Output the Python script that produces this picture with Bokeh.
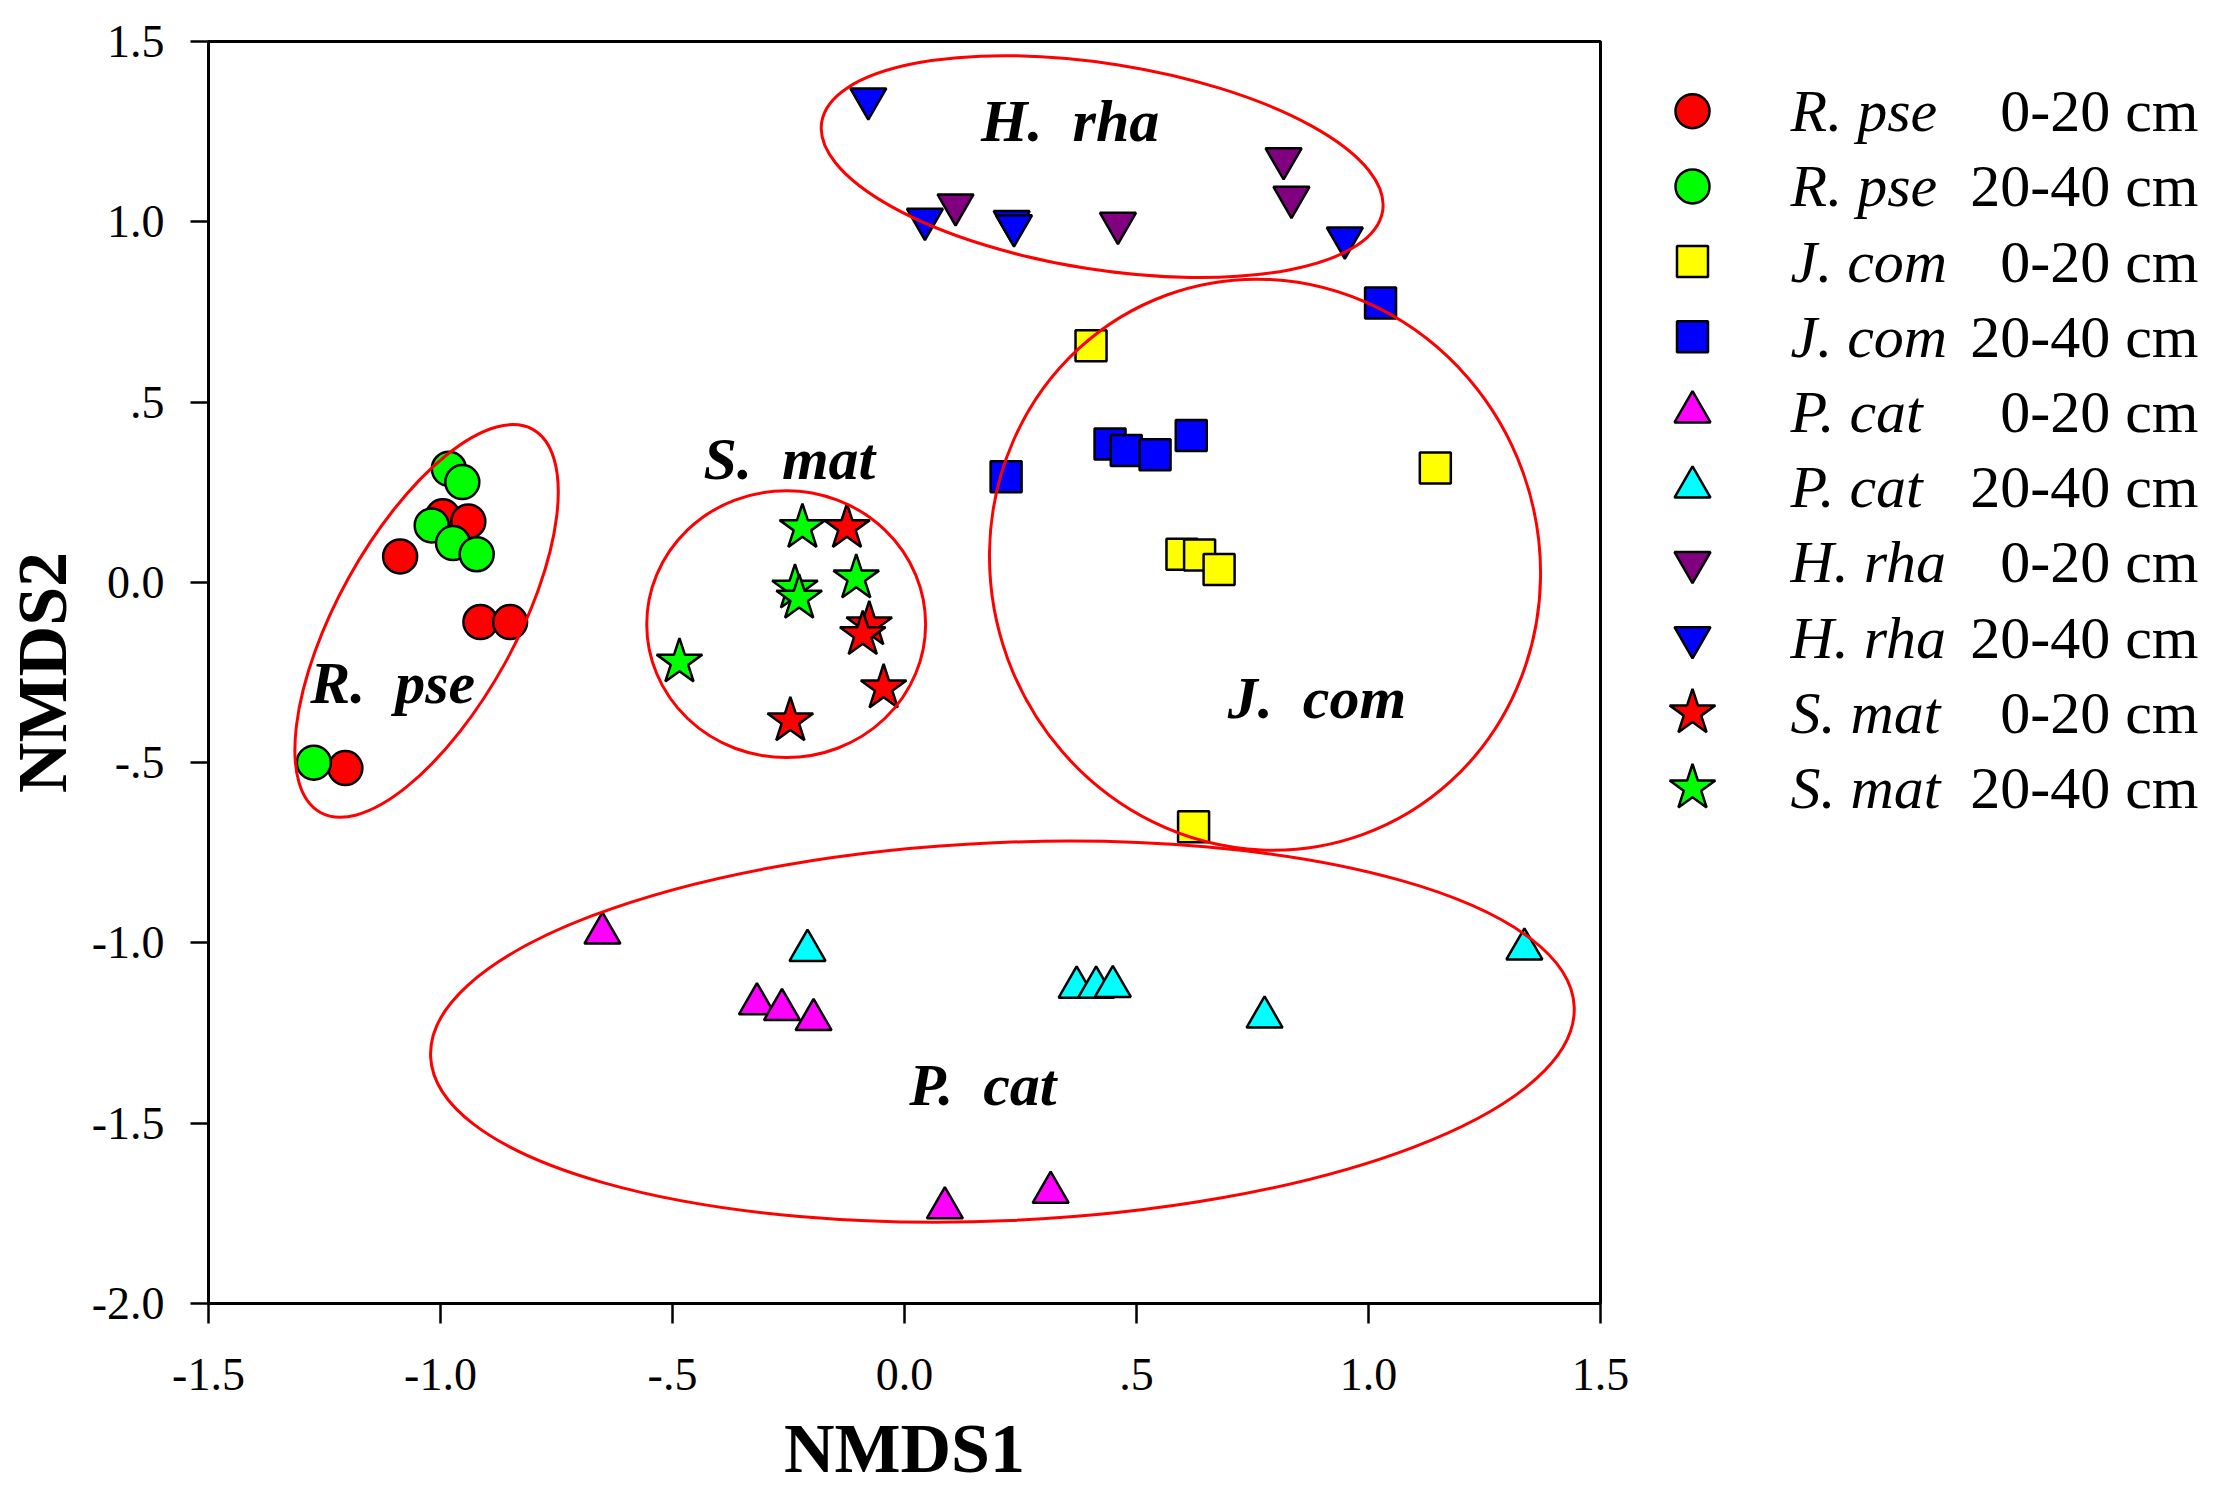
import numpy as np
from bokeh.plotting import figure
from bokeh.models import Range1d, FixedTicker, CustomJSTickFormatter, ColumnDataSource
from bokeh.layouts import row
from bokeh.core.properties import value
from bokeh.embed import file_html
from bokeh.resources import INLINE

# ---------------- data ----------------
species = ["R. pse", "J. com", "P. cat", "H. rha", "S. mat"]
depths = ["0-20 cm", "20-40 cm"]

rpse_0_20_x = [-0.995, -0.940, -1.087, -0.914, -0.850, -1.205]
rpse_0_20_y = [0.183, 0.169, 0.072, -0.110, -0.110, -0.515]
rpse_20_40_x = [-0.982, -0.953, -1.019, -0.973, -0.922, -1.273]
rpse_20_40_y = [0.315, 0.278, 0.158, 0.109, 0.078, -0.500]

jcom_0_20_x = [0.402, 1.144, 0.598, 0.636, 0.678, 0.623]
jcom_0_20_y = [0.656, 0.317, 0.078, 0.076, 0.036, -0.678]
jcom_20_40_x = [1.026, 0.219, 0.443, 0.478, 0.540, 0.618]
jcom_20_40_y = [0.775, 0.293, 0.384, 0.366, 0.354, 0.407]

pcat_0_20_x = [-0.651, -0.318, -0.264, -0.196, 0.087, 0.315]
pcat_0_20_y = [-0.973, -1.169, -1.185, -1.213, -1.735, -1.692]
pcat_20_40_x = [-0.209, 0.371, 0.413, 0.449, 0.776, 1.336]
pcat_20_40_y = [-1.021, -1.123, -1.123, -1.121, -1.206, -1.017]

hrha_0_20_x = [0.110, 0.460, 0.817, 0.834]
hrha_0_20_y = [1.047, 0.996, 1.175, 1.068]
hrha_20_40_x = [-0.078, 0.044, 0.231, 0.236, 0.949]
hrha_20_40_y = [1.341, 1.007, 1.001, 0.989, 0.955]

smat_0_20_x = [-0.124, -0.076, -0.090, -0.045, -0.246]
smat_0_20_y = [0.152, -0.118, -0.145, -0.293, -0.384]
smat_20_40_x = [-0.220, -0.236, -0.227, -0.104, -0.485]
smat_20_40_y = [0.152, -0.016, -0.044, 0.012, -0.221]

series_species = ["R. pse", "R. pse", "J. com", "J. com", "P. cat", "P. cat",
                  "H. rha", "H. rha", "S. mat", "S. mat"]
series_depth = depths * 5
series_marker = ["circle", "circle", "square", "square", "triangle", "triangle",
                 "inverted_triangle", "inverted_triangle", "star", "star"]
series_color = ["#FF0000", "#00FF00", "#FFFF00", "#0000FF", "#FF00FF", "#00FFFF",
                "#800080", "#0000FF", "#FF0000", "#00FF00"]
series_x = [rpse_0_20_x, rpse_20_40_x, jcom_0_20_x, jcom_20_40_x, pcat_0_20_x,
            pcat_20_40_x, hrha_0_20_x, hrha_20_40_x, smat_0_20_x, smat_20_40_x]
series_y = [rpse_0_20_y, rpse_20_40_y, jcom_0_20_y, jcom_20_40_y, pcat_0_20_y,
            pcat_20_40_y, hrha_0_20_y, hrha_20_40_y, smat_0_20_y, smat_20_40_y]

# group ellipses (centre, axes in data units, rotation)
ell_name = ["R. pse", "S. mat", "H. rha", "J. com", "P. cat"]
ell_x = [-1.030, -0.255, 0.426, 0.777, 0.211]
ell_y = [-0.107, -0.116, 1.153, 0.049, -1.246]
ell_w = [0.944, 0.601, 1.224, 1.181, 2.467]
ell_h = [0.494, 0.740, 0.571, 1.592, 1.049]
ell_angle = [61, 0, -9, 20, 2.5]

NB = "\u00a0"
group_label_text = ["R." + NB * 2 + "pse", "S." + NB * 2 + "mat", "H." + NB * 2 + "rha",
                    "J." + NB * 2 + "com", "P." + NB * 2 + "cat"]
group_label_x = [-1.103, -0.248, 0.357, 0.889, 0.169]
group_label_y = [-0.280, 0.342, 1.280, -0.322, -1.393]

x_ticks = [-1.5, -1.0, -0.5, 0.0, 0.5, 1.0, 1.5]
y_ticks = [-2.0, -1.5, -1.0, -0.5, 0.0, 0.5, 1.0, 1.5]

# ---------------- styling ----------------
FONT = "Liberation Serif"
marker_size = {"circle": 34, "square": 31, "triangle": 36,
               "inverted_triangle": 36, "star": 48}

TOP = 41
FRAME_H = 1262
p = figure(frame_width=1392, frame_height=FRAME_H,
           x_range=Range1d(-1.5, 1.5), y_range=Range1d(-2.0, 1.5),
           toolbar_location=None, output_backend="svg",
           min_border_left=201, min_border_top=TOP, min_border_right=39,
           min_border_bottom=177)
p.grid.visible = False
p.outline_line_color = "black"
p.outline_line_width = 3
p.background_fill_color = "white"
p.border_fill_color = "white"

fmt = CustomJSTickFormatter(code="""
if (Math.abs(tick) < 1e-9) { return "0.0"; }
let s = Math.abs(tick).toFixed(1);
if (s.startsWith("0")) { s = s.substring(1); }
return (tick < 0 ? "-" : "") + s;
""")

for ax, ticks, lab in ((p.xaxis[0], x_ticks, "NMDS1"), (p.yaxis[0], y_ticks, "NMDS2")):
    ax.ticker = FixedTicker(ticks=ticks)
    ax.formatter = fmt
    ax.minor_tick_line_color = None
    ax.major_tick_in = 0
    ax.axis_line_width = 3
    ax.major_tick_line_width = 2.5
    ax.major_label_text_font = FONT
    ax.major_label_text_font_size = "46px"
    ax.major_label_text_color = "black"
    ax.axis_label = lab
    ax.axis_label_text_font = FONT
    ax.axis_label_text_font_style = "bold"
    ax.axis_label_text_font_size = "70px"
    ax.axis_label_text_color = "black"

p.xaxis.major_tick_out = 20
p.yaxis.major_tick_out = 18
p.xaxis.major_label_standoff = 35
p.yaxis.major_label_standoff = 26
p.xaxis.axis_label_standoff = 17
p.yaxis.axis_label_standoff = 8

for sp, dp, mk, col, xs, ys in zip(series_species, series_depth, series_marker,
                                   series_color, series_x, series_y):
    p.scatter(x=xs, y=ys, marker=mk, size=marker_size[mk], fill_color=col,
              line_color="black", line_width=2.5)

p.ellipse(x=ell_x, y=ell_y, width=ell_w, height=ell_h, angle=ell_angle,
          angle_units="deg", fill_color=None, line_color="#FF0000", line_width=3)

p.text(x=group_label_x, y=group_label_y, text=group_label_text,
       text_font=value(FONT), text_font_style="bold italic",
       text_font_size=value("60px"), text_align="center",
       text_baseline="middle", text_color="black")

# ---------------- legend panel (frame aligned with the main frame) ----------------
LW = 584
leg = figure(width=LW, frame_height=FRAME_H, x_range=Range1d(0, LW),
             y_range=Range1d(TOP + FRAME_H, TOP),
             toolbar_location=None, output_backend="svg", min_border_left=0,
             min_border_right=0, min_border_top=TOP, min_border_bottom=177,
             x_axis_type=None, y_axis_type=None)
leg.outline_line_color = None
leg.background_fill_color = "white"
leg.border_fill_color = "white"

row_y = [110.7 + 75.2 * i for i in range(len(series_species))]
leg_src = ColumnDataSource(dict(
    y=row_y,
    mx=[53] * len(row_y),
    sx=[151] * len(row_y),
    dx=[559] * len(row_y),
    marker=series_marker,
    size=[marker_size[m] for m in series_marker],
    color=series_color,
    species=series_species,
    depth=series_depth,
))
leg.scatter(x="mx", y="y", marker="marker", size="size", fill_color="color",
            line_color="black", line_width=2.5, source=leg_src)
leg.text(x="sx", y="y", text="species", source=leg_src, y_offset=0,
         text_font=value(FONT), text_font_style="italic",
         text_font_size=value("60px"), text_align="left",
         text_baseline="middle", text_color="black")
leg.text(x="dx", y="y", text="depth", source=leg_src, y_offset=0,
         text_font=value(FONT), text_font_style="normal",
         text_font_size=value("60px"), text_align="right",
         text_baseline="middle", text_color="black")

layout = row(p, leg)
open("out.html", "w").write(file_html(layout, INLINE))
